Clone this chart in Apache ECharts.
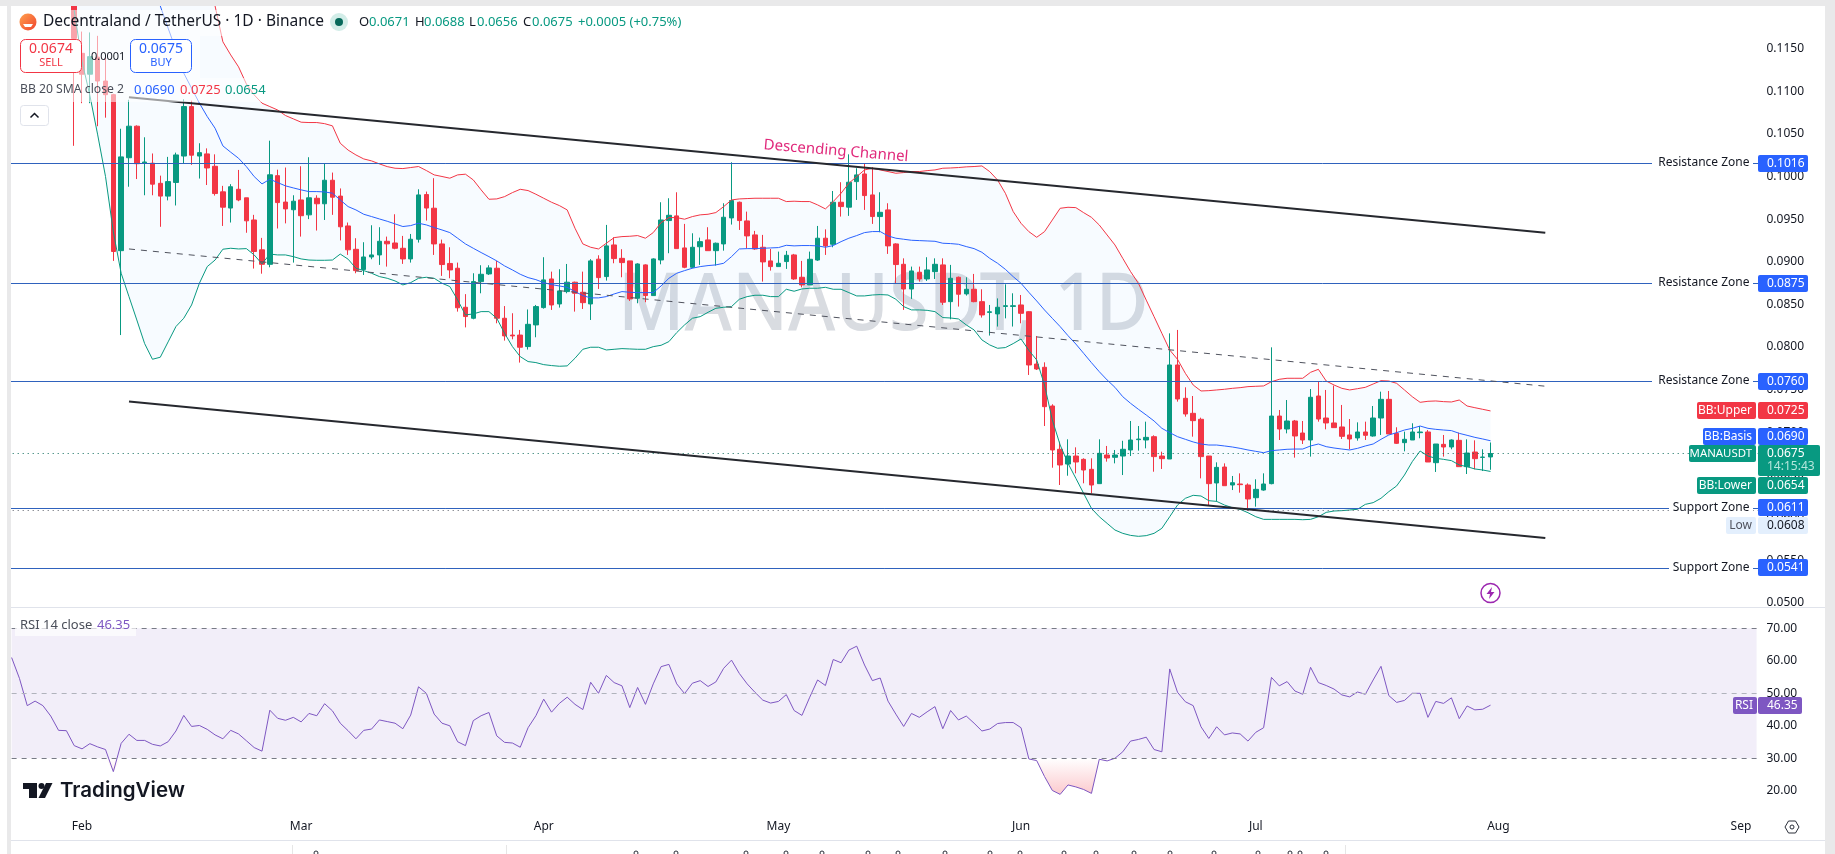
<!DOCTYPE html>
<html>
<head>
<meta charset="utf-8">
<title>MANAUSDT 1D</title>
<style>html,body{margin:0;padding:0;background:#fff}#chart{width:1835px;height:854px}</style>
<script src="https://cdn.jsdelivr.net/npm/echarts@6/dist/echarts.min.js"></script>
</head>
<body>
<div id="chart"></div>
<script>
// Daily candles; the earliest bars trade above the visible price range.
const firstCandle = 8, firstBasis = 19, lastCandle = 189, totalSlots = 224;

const opens = [
.123,.11445,.112,.114,.1112,.1096,.0913,.1022,.1059,.1016,
.10156,.0992,.0977,.0993,.1024,.1082,.1024,.10265,.1012,.0982,
.0963,.0985,.0975,.0949,.0914,.0897,.1001,.097,.0961,.09725,
.0955,.09745,.0968,.09956,.0977,.0942,.09146,.0891,.09056,.0908,
.0924,.0922,.09158,.09033,.09264,.09788,.09628,.09209,.0898,.08924,
.08466,.08337,.08767,.08857,.08924,.08337,.0814,.0814,.08005,.08259,
.08462,.08798,.08505,.0865,.0876,.08642,.08505,.0903,.08826,.09197,
.0904,.0901,.08572,.08963,.08603,.09021,.09483,.09538,.09162,.08935,
.09176,.09256,.0913,.09209,.09514,.09698,.09479,.09315,.0917,.0901,
.08943,.09002,.0908,.08818,.08728,.0902,.09276,.09205,.09698,.0964,
.0994,.1003,.09784,.0953,.09608,.09209,.0897,.0868,.08877,.08798,
.08884,.08963,.08532,.08818,.08623,.08677,.08532,.08406,.08388,.08476,
.08476,.08493,.08414,.078,.07762,.07308,.068,.06627,.06721,.06682,
.06565,.06397,.06733,.06706,.06721,.06792,.06913,.06909,.06948,.06721,
.06686,.07789,.07398,.07222,.07152,.06721,.06405,.06592,.06381,.06393,
.06381,.06232,.06322,.06397,.0719,.07038,.07132,.06991,.06909,.07425,
.07167,.07109,.07062,.06968,.06933,.07003,.06956,.07167,.07386,.06987,
.06878,.06909,.06995,.07003,.06643,.06858,.06827,.06905,.06596,.06768,
.06705,.0671];
const closes = [
.1162,.112,.11406,.1112,.1096,.0912,.1023,.1059,.1015,.1017,
.0991,.0977,.0994,.10253,.1082,.1025,.1028,.101,.098,.0964,
.0988,.09725,.0948,.0912,.0897,.1002,.09694,.0962,.0971,.0954,
.0975,.0968,.09956,.09757,.0941,.0914,.08896,.09056,.0908,.0924,
.0921,.09158,.09033,.09264,.09784,.0963,.09209,.08967,.08904,.0846,
.08357,.08767,.08853,.08928,.08337,.0813,.0813,.07997,.08266,.08474,
.08787,.08493,.08658,.0876,.0863,.0852,.0901,.08814,.09186,.09037,
.0899,.08564,.08974,.08603,.09033,.0949,.09545,.09154,.08935,.0917,
.09236,.0913,.09217,.09522,.09718,.09483,.09303,.0915,.08998,.08943,
.08982,.09076,.08798,.08728,.09029,.09276,.09186,.09698,.09647,.09933,
.10019,.09776,.0953,.0958,.09186,.08967,.0868,.08892,.08798,.08904,
.0897,.08525,.08806,.08619,.08677,.08532,.08376,.08413,.08466,.08484,
.08484,.08395,.07789,.07742,.073,.06792,.06616,.06721,.06651,.06557,
.06381,.06753,.06698,.06733,.068,.06909,.0692,.0694,.06714,.0669,
.07789,.0739,.07214,.07136,.06714,.06397,.06588,.06373,.06408,.06385,
.06217,.0633,.06393,.0719,.07038,.07132,.06956,.06909,.0741,.07155,
.07109,.07054,.06952,.06921,.07003,.06964,.07167,.07386,.0698,.0687,
.06917,.07003,.07003,.06651,.06862,.06827,.06909,.06596,.06756,.0669,
.06709,.0675];
const lows = [
.1036,.1086,.1086,.1059,.1069,.0901,.0814,.0988,.0997,.0978,
.0978,.0941,.0972,.0966,.10156,.10136,.09976,.099,.09776,.0942,
.0946,.0971,.0934,.0892,.0886,.08935,.0939,.0945,.0899,.09295,
.095,.09366,.0949,.0955,.0925,.0908,.08865,.08845,.09029,.08963,
.08943,.09146,.08975,.0899,.09225,.09483,.0908,.08834,.08806,.08415,
.0823,.08325,.0863,.08845,.08278,.08075,.0809,.07817,.0797,.08114,
.0845,.08435,.08462,.0863,.08415,.08446,.08317,.08681,.08779,.08982,
.08818,.0854,.08513,.08525,.08603,.0897,.091,.09154,.08924,.08924,
.08963,.0913,.08955,.0913,.09436,.09373,.09158,.09139,.08767,.08896,
.08943,.08916,.08787,.087,.08728,.0901,.0908,.0917,.0953,.09538,
.09725,.09608,.09444,.09346,.09092,.08748,.08435,.08564,.08767,.08775,
.08798,.08493,.08325,.08474,.08603,.08525,.08345,.08134,.0824,.08336,
.0824,.08278,.07672,.0773,.07073,.06584,.06381,.0649,.06518,.06401,
.06283,.06397,.06655,.06635,.06498,.06721,.06784,.06811,.06537,.06569,
.06686,.07359,.07183,.06948,.06459,.06146,.06185,.06373,.06322,.06291,
.0608,.06127,.06314,.06389,.06909,.06987,.06702,.06862,.06714,.07124,
.07034,.07054,.06921,.068,.06901,.06909,.06948,.06968,.0698,.06862,
.06776,.06909,.06929,.06651,.06534,.06714,.068,.06596,.0651,.06565,
.06545,.0656];
const highs = [
.126,.117,.1169,.1165,.114,.1097,.1056,.109,.106,.1046,
.1027,.1001,.1023,.1028,.10906,.1089,.1039,.1033,.1026,.0989,
.0991,.10077,.0975,.0955,.0928,.1042,.1008,.10105,.0978,.1012,
.10226,.0978,.10148,.10046,.0986,.0946,.09276,.09229,.09428,.09405,
.09295,.09557,.09303,.09326,.0985,.09823,.0998,.0926,.0917,.0899,
.0862,.08865,.08959,.08959,.0901,.0848,.08396,.082,.0844,.08493,
.09053,.08884,.08912,.08974,.08767,.08884,.0903,.09076,.09432,.09287,
.09147,.0901,.08982,.0897,.0904,.09698,.09745,.09815,.09444,.09334,
.09283,.09405,.09225,.09686,.10167,.09706,.09588,.09362,.09315,.0915,
.09119,.09127,.09092,.0901,.09119,.0942,.0938,.0983,.09933,.1026,
.10097,.10148,.10109,.09815,.09686,.09217,.0904,.08943,.08943,.09053,
.0904,.0904,.08963,.08826,.08818,.08857,.08677,.08493,.0857,.08735,
.0863,.0861,.0842,.08129,.0782,.07328,.0689,.06917,.06823,.06694,
.06694,.06917,.06839,.06792,.069,.07132,.07073,.07124,.06964,.06772,
.0816,.082,.07527,.07425,.07171,.06721,.06647,.06635,.06487,.06518,
.064,.06448,.06518,.07996,.07261,.07378,.07144,.07132,.07507,.07593,
.07496,.07547,.0732,.07155,.07116,.07124,.07308,.07476,.07484,.07058,
.07007,.07105,.07073,.07026,.06862,.06968,.06917,.06995,.06917,.06905,
.068,.0688];

// Bollinger bands (20, 2). The upper band is far above the range until mid-February.
const bbUpper = [
.156,.154,.152,.15,.148,.146,.144,.142,.14,.1385,.137,.1355,.134,.132,.13,.1285,.1265,.1235,
.12,.1158,.11426,.11286,.11086,.10957,.1086,.1082,.1078,.10715,
.10676,.10637,.10633,.10633,.1062,.10594,.1039,.1031,.10253,.10206,
.10183,.10148,.10116,.10097,.10093,.10105,.10117,.1007,.10019,.1,
.0998,.10019,.10027,.0996,.09843,.09733,.09737,.09764,.09811,.0985,
.09835,.09792,.09745,.09698,.09659,.09608,.09393,.09209,.0917,.0915,
.09217,.09283,.09295,.09299,.09307,.09276,.09342,.09459,.09518,.09518,
.09499,.0953,.0955,.09557,.09577,.09647,.09725,.09737,.09741,.09745,
.09745,.09745,.09745,.09706,.0971,.09706,.09706,.09667,.0962,.09706,
.09804,.09921,.09999,.10077,.10097,.10077,.10058,.10038,.10046,.10058,
.10058,.10069,.10077,.10097,.101,.10105,.10113,.10117,.10124,.10057,
.09959,.09803,.09588,.09451,.09353,.09287,.09353,.0949,.09627,.09639,
.09635,.09576,.09521,.09431,.09314,.09197,.0904,.08884,.08747,.0855,
.08356,.0816,.07965,.07855,.07691,.07554,.07484,.07488,.07496,.07504,
.07515,.07523,.07535,.07539,.07543,.07593,.07621,.07633,.07633,.07633,
.07703,.07738,.07601,.07554,.07515,.07496,.07511,.07527,.07566,.07605,
.07601,.07574,.07496,.07417,.07351,.07363,.07367,.07359,.07355,.07378,
.07308,.07288,.07269,.0725];
const bbBasis = [
.12,.1174,.11485,.11212,.11036,.1086,.10703,.10566,.10359,.10285,
.10214,.10116,.09999,.09913,.09968,.09929,.0989,.09866,.09843,.09823,
.09823,.09819,.09804,.09725,.09647,.09608,.09557,.0953,.09502,.09475,
.09444,.09413,.09424,.09452,.09432,.09401,.09373,.09342,.09276,.09209,
.09158,.09108,.0906,.0901,.08951,.08904,.08853,.08814,.0879,.08755,
.08732,.08716,.087,.0865,.08603,.08576,.08576,.08591,.08622,.0865,
.08642,.08638,.08638,.08638,.08716,.08806,.08865,.08896,.08924,.08943,
.08955,.08963,.08982,.0906,.0915,.09154,.09154,.09158,.09162,.09166,
.09193,.09186,.0919,.0919,.09186,.0917,.0919,.09236,.09276,.09307,
.09342,.09354,.09354,.09303,.09276,.09264,.09252,.09248,.09244,.0924,
.09217,.09213,.09205,.09178,.09154,.09111,.0904,.08982,.08911,.08825,
.08747,.08641,.0854,.08434,.08336,.08239,.08133,.08035,.07926,.07816,
.0771,.07613,.07527,.07417,.07339,.07269,.07202,.07132,.07046,.06995,
.06948,.06917,.06886,.06862,.0685,.0685,.06839,.06827,.06811,.06792,
.06776,.0676,.06784,.06792,.068,.06803,.06803,.06839,.06862,.06831,
.06815,.06803,.06792,.06811,.06839,.06862,.06917,.06968,.06995,.07026,
.07046,.07073,.07046,.07034,.07026,.07019,.06987,.06964,.0694,.06921,
.069];
const bbLower = [
.1195,.1135,.1095,.10488,.1,.0935,.08865,.0859,.08317,.0804,
.07856,.0788,.0806,.0824,.08337,.08493,.08748,.08943,.0902,.09147,
.09158,.0915,.09154,.0908,.08975,.0909,.0908,.0908,.0906,.09033,
.0902,.09017,.09017,.0902,.0909,.0903,.08924,.08896,.08865,.08826,
.08806,.08775,.08728,.08755,.08806,.08818,.08806,.08748,.08709,.08552,
.08376,.08388,.08415,.08415,.08337,.08161,.08005,.07887,.07829,.07817,
.07793,.07782,.07774,.07778,.07868,.07973,.07997,.07997,.07965,.07973,
.07981,.07977,.07973,.07973,.08004,.0802,.08063,.08169,.08259,.08337,
.08356,.08407,.08454,.08466,.08474,.0856,.08591,.08607,.08607,.08591,
.08591,.08677,.08654,.08681,.08689,.08689,.087,.08677,.08677,.08638,
.08599,.08599,.0861,.08615,.0861,.0856,.08474,.08435,.08435,.0843,
.08415,.08345,.0834,.08329,.08259,.082,.08083,.08024,.07985,.07993,
.0804,.08094,.0796,.07848,.07554,.07144,.0685,.06635,.0646,.06283,
.06107,.06009,.05931,.05853,.05814,.0579,.05779,.05787,.05814,.05873,
.06009,.06146,.06225,.0626,.06252,.06197,.06189,.06146,.06115,.06096,
.06056,.06009,.05978,.05978,.05978,.05978,.05978,.05974,.05978,.06009,
.0606,.06076,.0608,.06088,.06096,.06154,.06174,.06225,.06303,.0637,
.06498,.06655,.0678,.06721,.06694,.06682,.06667,.06616,.06596,.06569,
.06557,.0654];

// RSI (14) for every session.
const rsi = [
61.0,54.6,46.2,47.6,46.2,43.0,38.6,38.5,33.9,32.9,
34.5,33.5,32.7,25.9,34.6,37.4,35.5,35.5,34.3,33.8,
35.1,38.4,43.2,39.8,40.1,38.9,37.2,36.0,38.6,37.5,
35.4,33.3,32.2,44.8,42.3,41.7,42.6,41.2,43.8,43.1,
46.8,44.6,40.8,38.5,36.0,38.6,39.0,41.8,41.3,40.8,
39.1,43.3,52.0,50.0,43.6,40.8,40.0,35.1,33.9,41.6,
43.1,44.1,36.9,34.9,34.7,33.4,39.4,43.1,48.2,44.2,
46.9,48.8,46.6,45.0,53.4,50.0,55.5,53.3,52.3,45.6,
51.8,46.6,52.9,58.2,58.9,52.9,49.9,53.1,53.9,52.1,
53.5,57.7,60.2,56.1,52.9,50.3,47.9,47.0,47.5,49.6,
44.7,43.2,48.8,54.1,52.4,60.4,59.4,63.3,64.5,58.7,
53.9,54.7,47.6,43.6,39.8,43.8,42.6,44.3,45.9,39.1,
44.7,41.8,43.0,40.8,38.4,39.0,40.7,41.0,41.0,39.4,
29.8,29.3,24.4,20.1,18.9,21.8,21.2,20.4,19.2,29.7,
29.2,30.0,32.0,35.3,35.8,36.5,32.7,32.0,57.5,50.3,
47.4,46.2,39.7,36.1,39.7,37.2,37.8,37.5,35.3,38.0,
39.4,54.9,52.3,53.6,50.7,49.7,58.0,53.3,52.4,51.3,
49.5,48.9,50.4,49.7,54.1,58.3,49.3,47.2,47.8,50.0,
50.0,42.6,47.5,46.9,48.6,42.2,46.1,44.9,45.1,46.35];

const priceTicks = [0.05,0.055,0.06,0.065,0.07,0.075,0.08,0.085,0.09,0.095,0.1,0.105,0.11,0.115];
const rsiTicks = [20,30,40,50,60,70];
const zoneLevels = [0.1016,0.0875,0.076,0.0611,0.0541];
const lastClose = 0.0675, periodLow = 0.0608;

// Channel trendlines as [slot, price] pairs.
const channelTop = [[15,0.1093],[196,0.0934]];
const channelBottom = [[15,0.0736],[196,0.0576]];
const channelMid = [[15,0.0915],[196,0.0754]];

const candleCount = lastCandle - firstCandle + 1;
[opens,closes,lows,highs,bbUpper,bbLower].forEach(a=>{ if(a.length!==candleCount) throw new Error('price series length '+a.length+' expected '+candleCount); });
if(bbBasis.length!==lastCandle-firstBasis+1) throw new Error('basis length '+bbBasis.length);
if(rsi.length!==lastCandle+1) throw new Error('rsi length '+rsi.length);

// One slot per calendar day, ending with the empty right margin.
const dates = [];
for(let i=0;i<totalSlots;i++){
  const d = new Date(Date.UTC(2023,0,23+i));
  dates.push(d.toISOString().slice(0,10));
}
const monthNames = ['Jan','Feb','Mar','Apr','May','Jun','Jul','Aug','Sep'];
const pad = (n,v) => Array(n).fill(v);
const candleData = pad(firstCandle,'-').concat(opens.map((o,i)=>[o,closes[i],lows[i],highs[i]]));
const upperData = pad(firstCandle,'-').concat(bbUpper);
const lowerData = pad(firstCandle,'-').concat(bbLower);
const basisData = pad(firstBasis,'-').concat(bbBasis);
const bandData = pad(firstCandle,'-').concat(bbUpper.map((u,i)=>u-bbLower[i]));
const rsiFloor = rsi.map(r=>Math.min(r,30));
const rsiDip = rsiFloor.map(r=>30-r);

const UP='#089981', DOWN='#f23645', BLUE='#2962ff', ZONE='#2f62bd', INK='#131722', PURPLE='#7e57c2';
const FONT='"Noto Sans"';
const price = v => v.toFixed(4);

// Helpers for the overlay drawn on top of the panes.
const Z=100;
const rect=(x,y,w,h,fill,r,extra)=>Object.assign({type:'rect',silent:true,z:Z,shape:{x,y,width:w,height:h,r:r||0},style:{fill}},extra||{});
const txt=(text,x,y,fill,size,align,extra)=>Object.assign({type:'text',silent:true,z:Z+2,style:{text,x,y,fill,font:(size||12)+'px '+FONT,textAlign:align||'left',textVerticalAlign:'middle'}},extra||{});
const poly=(points,fill,extra)=>Object.assign({type:'polygon',silent:true,z:Z+1,shape:{points},style:{fill}},extra||{});
const ring=(cx,cy,r,stroke,w,fill)=>({type:'circle',silent:true,z:Z+1,shape:{cx,cy,r},style:{stroke,lineWidth:w,fill:fill||'transparent'}});

// Price scale tags: [left, top, width, height, colour, text, text colour]
const priceTags=[
 [1758,155,50,17,BLUE,'0.1016','#fff'],
 [1758,275,50,17,BLUE,'0.0875','#fff'],
 [1758,373,50,17,BLUE,'0.0760','#fff'],
 [1758,402,50,17,DOWN,'0.0725','#fff'],
 [1758,428,50,17,BLUE,'0.0690','#fff'],
 [1758,477,50,17,UP,'0.0654','#fff'],
 [1758,499,50,17,BLUE,'0.0611','#fff'],
 [1758,517,50,17,'#e3effd','0.0608',INK],
 [1758,559,50,17,BLUE,'0.0541','#fff']
];
const sideTags=[
 [1697,402,59,17,DOWN,'BB:Upper','#fff'],
 [1703,428,53,17,BLUE,'BB:Basis','#fff'],
 [1689,445,67,17,UP,'MANAUSDT','#fff'],
 [1697,477,59,17,UP,'BB:Lower','#fff'],
 [1726,517,30,17,'#e3effd','Low','#50535e'],
 [1733,697,24,17,PURPLE,'RSI','#fff']
];
const zoneTags=[
 ['Resistance Zone',163,1652],['Resistance Zone',283,1652],['Resistance Zone',381,1652],
 ['Support Zone',508,1669],['Support Zone',568,1669]
];

const overlay=[
 // watermark sits under the series
 {type:'text',silent:true,z:0,x:618,y:307,scaleX:0.905,style:{text:'MANAUSDT, 1D',x:0,y:0,fill:'#d9dce1',font:'500 80px '+FONT,textVerticalAlign:'middle'}},

 // legend wash
 rect(15,10,685,26,'rgba(255,255,255,0.55)'),
 rect(15,36,185,42,'rgba(255,255,255,0.55)'),
 rect(15,78,255,24,'rgba(255,255,255,0.55)'),

 // window chrome
 rect(0,0,1835,6,'#e9e9ea'),
 rect(0,6,7,848,'#ffffff'),
 rect(7,6,4,848,'#e9e9ea'),
 rect(1825,0,10,854,'#e9e9ea'),
 rect(11,840,1814,1,'#e0e3eb'),
 rect(11,841,1814,13,'#ffffff'),
 rect(11,607,1814,1,'#e0e3eb'),

 // title row
 {type:'circle',silent:true,z:Z+1,shape:{cx:28,cy:22,r:8.5},style:{fill:{type:'linear',x:0,y:0,x2:1,y2:1,colorStops:[{offset:0,color:'#ffa14d'},{offset:1,color:'#f0432e'}]}}},
 poly([[23,24],[33,24],[31,27],[25,27]],'#fff'),
 txt('Decentraland / TetherUS · 1D · Binance',43,22,INK,15.5),
 ring(339,22,9,'transparent',0,'rgba(8,153,129,0.18)'),
 ring(339,22,4,'transparent',0,'#06695a'),
 txt('O',359,22,INK,13), txt('0.0671',369,22,UP,13),
 txt('H',415,22,INK,13), txt('0.0688',424,22,UP,13),
 txt('L',469,22,INK,13), txt('0.0656',477,22,UP,13),
 txt('C',523,22,INK,13), txt('0.0675',532,22,UP,13),
 txt('+0.0005 (+0.75%)',578,22,UP,13),

 // order buttons
 rect(20.5,39.5,61,33,'#fff',5,{style:{fill:'#fff',stroke:DOWN,lineWidth:1}}),
 rect(130.5,39.5,61,33,'#fff',5,{style:{fill:'#fff',stroke:BLUE,lineWidth:1}}),
 txt('0.0674',51,49,DOWN,14,'center'),
 txt('SELL',51,63,DOWN,11,'center'),
 txt('0.0675',161,49,BLUE,14,'center'),
 txt('BUY',161,63,BLUE,11,'center'),
 txt('0.0001',91,57,INK,11),

 // indicator legend
 txt('BB 20 SMA close 2',20,90,'#4a4e59',12.2),
 txt('0.0690',134,90,BLUE,13),
 txt('0.0725',180,90,DOWN,13),
 txt('0.0654',225,90,UP,13),
 rect(20.5,105.5,28,20,'#fff',3,{style:{fill:'#fff',stroke:'#e0e3eb',lineWidth:1}}),
 {type:'polyline',silent:true,z:Z+2,shape:{points:[[30.5,117.5],[34.5,113.5],[38.5,117.5]]},style:{stroke:INK,lineWidth:1.5,fill:'none'}},

 // pattern note on the channel
 {type:'text',silent:true,z:Z+2,x:836,y:151,rotation:-0.084,style:{text:'Descending Channel',x:0,y:0,fill:'#e0297b',font:'15px '+FONT,textAlign:'center',textVerticalAlign:'middle'}},

 // flash icon
 ring(1490.5,593,9.5,'#9c27b0',1.5,'#fff'),
 poly([[1492,587],[1486.5,594],[1490,594],[1489,599],[1494.5,592],[1491,592]],'#9c27b0'),

 // RSI legend
 rect(15,612,121,24,'rgba(255,255,255,0.7)'),
 txt('RSI 14 close',20,625,'#4a4e59',13),
 txt('46.35',97,625,PURPLE,13),

 // logo
 rect(23,783,14,6,'#131722',0,{z:Z+1}),
 rect(29,783,8,15,'#131722',0,{z:Z+1}),
 ring(41.5,786,3,'transparent',0,'#131722'),
 poly([[46,783],[52.5,783],[45,798],[38.5,798]],'#131722'),
 {type:'text',silent:true,z:Z+2,style:{text:'TradingView',x:60,y:791,fill:'#131722',font:'600 20.5px Inter',textVerticalAlign:'middle'}},

 // time axis settings glyph
 {type:'polygon',silent:true,z:Z+1,shape:{points:[[1785,827],[1788.5,821],[1795.5,821],[1799,827],[1795.5,833],[1788.5,833]]},style:{fill:'none',stroke:'#2a2e39',lineWidth:1}},
 ring(1792,827,2,'#2a2e39',1),

 // drawing toolbar peeking in under the chart
 rect(292,845,1,9,'#e6e6e6'), rect(506,845,1,9,'#e6e6e6'), rect(1345,845,1,9,'#e6e6e6')
];
[316,636,676,746,786,822,868,898,945,990,1020,1064,1096,1134,1170,1214,1258,1290,1300,1326].forEach(x=>{
  overlay.push(ring(x,853,2,'#2a2e39',1));
});

zoneTags.forEach(t=>{
  overlay.push(rect(t[2],t[1]-8,1753-t[2],16,'#fff'));
  overlay.push(txt(t[0],1749.5,t[1],INK,12,'right'));
});
sideTags.forEach(t=>{
  overlay.push(rect(t[0],t[1],t[2],t[3],t[4],2));
  overlay.push(txt(t[5],t[0]+t[2]-4,t[1]+8.5,t[6],t[5]==='MANAUSDT'?11.4:12,'right'));
});
priceTags.forEach(t=>{
  overlay.push(rect(t[0],t[1],t[2],t[3],t[4],2));
  overlay.push(txt(t[5],t[0]+9,t[1]+8.5,t[6],12));
});
overlay.push(rect(1758,445,62,31,UP,2));
overlay.push(txt('0.0675',1767,453.5,'#fff',12));
overlay.push(txt('14:15:43',1767,467,'#b5e6dc',12));
overlay.push(rect(1758,697,44,17,PURPLE,2));
overlay.push(txt('46.35',1767,705.5,'#fff',12));

const level=(v,color,type,width)=>({yAxis:v,lineStyle:{color,type,width}});
const segment=(pair,color,type,width)=>[
  {coord:[dates[pair[0][0]],pair[0][1]],lineStyle:{color,type,width}},
  {coord:[dates[pair[1][0]],pair[1][1]]}
];
const rsiLevel=(v,color)=>[
  {coord:[dates[0],v],lineStyle:{color,type:[5,5],width:1}},
  {coord:[dates[totalSlots-1],v]}
];
const bbLine=(name,data,color)=>({name,type:'line',data,xAxisIndex:0,yAxisIndex:0,symbol:'none',z:4,lineStyle:{color,width:1},silent:true});

const chart=echarts.init(document.getElementById('chart'));
chart.setOption({
  animation:false,
  backgroundColor:'#fff',
  textStyle:{fontFamily:FONT},
  grid:[
    {left:7.7,top:6,width:1752.8,height:601},
    {left:7.7,top:608,width:1752.8,height:207}
  ],
  xAxis:[
    {type:'category',gridIndex:0,data:dates,show:false,boundaryGap:true},
    {type:'category',gridIndex:1,data:dates,boundaryGap:true,
      axisLine:{show:false},axisTick:{show:false},splitLine:{show:false},
      axisLabel:{color:INK,fontSize:12,margin:6,
        interval:(i,v)=>v.endsWith('-01'),
        formatter:v=>monthNames[+v.slice(5,7)-1]}}
  ],
  yAxis:[
    {type:'value',gridIndex:0,position:'right',min:0.0495,max:0.12,
      axisLine:{show:false},axisTick:{show:false},splitLine:{show:false},
      axisLabel:{customValues:priceTicks,formatter:price,color:INK,fontSize:12,margin:6}},
    {type:'value',gridIndex:1,position:'right',min:12.55,max:76.25,
      axisLine:{show:false},axisTick:{show:false},splitLine:{show:false},
      axisLabel:{customValues:rsiTicks,formatter:v=>v.toFixed(2),color:INK,fontSize:12,margin:6}}
  ],
  graphic:{elements:overlay},
  series:[
    {name:'band floor',type:'line',stack:'bb',data:lowerData,xAxisIndex:0,yAxisIndex:0,symbol:'none',lineStyle:{width:0},silent:true,z:1},
    {name:'band',type:'line',stack:'bb',data:bandData,xAxisIndex:0,yAxisIndex:0,symbol:'none',lineStyle:{width:0},silent:true,z:1,
      areaStyle:{color:'rgba(33,150,243,0.05)'}},
    {name:'MANAUSDT',type:'candlestick',data:candleData,xAxisIndex:0,yAxisIndex:0,barWidth:5,z:3,silent:true,
      itemStyle:{color:UP,color0:DOWN,borderColor:UP,borderColor0:DOWN,borderWidth:1}},
    bbLine('BB:Upper',upperData,DOWN),
    bbLine('BB:Lower',lowerData,UP),
    Object.assign(bbLine('BB:Basis',basisData,BLUE),{
      markLine:{silent:true,symbol:'none',precision:5,label:{show:false},z:5,data:[
        ...zoneLevels.map(v=>level(v,ZONE,'solid',1)),
        level(lastClose,'#0b6b5b',[1,4],1),
        level(periodLow,'#5d606b',[1,4],1),
        segment(channelTop,'#26282e','solid',2),
        segment(channelBottom,'#26282e','solid',2),
        segment(channelMid,'#50535e',[6,6],1)
      ]}
    }),
    {name:'dip floor',type:'line',stack:'dip',data:rsiFloor,xAxisIndex:1,yAxisIndex:1,symbol:'none',lineStyle:{width:0},silent:true,z:1},
    {name:'dip',type:'line',stack:'dip',data:rsiDip,xAxisIndex:1,yAxisIndex:1,symbol:'none',lineStyle:{width:0},silent:true,z:2,
      areaStyle:{color:{type:'linear',x:0,y:0,x2:0,y2:1,colorStops:[{offset:0,color:'rgba(242,54,69,0)'},{offset:1,color:'rgba(242,54,69,0.38)'}]}}},
    {name:'RSI',type:'line',data:rsi,xAxisIndex:1,yAxisIndex:1,symbol:'none',z:4,silent:true,lineStyle:{color:PURPLE,width:1},
      markArea:{silent:true,itemStyle:{color:'rgba(126,87,194,0.1)'},data:[[{coord:[dates[0],70]},{coord:[dates[totalSlots-1],30]}]]},
      markLine:{silent:true,symbol:'none',precision:5,label:{show:false},data:[
        rsiLevel(70,'#787b86'),rsiLevel(50,'#b0b3bc'),rsiLevel(30,'#787b86')
      ]}}
  ]
});
</script>
</body>
</html>
